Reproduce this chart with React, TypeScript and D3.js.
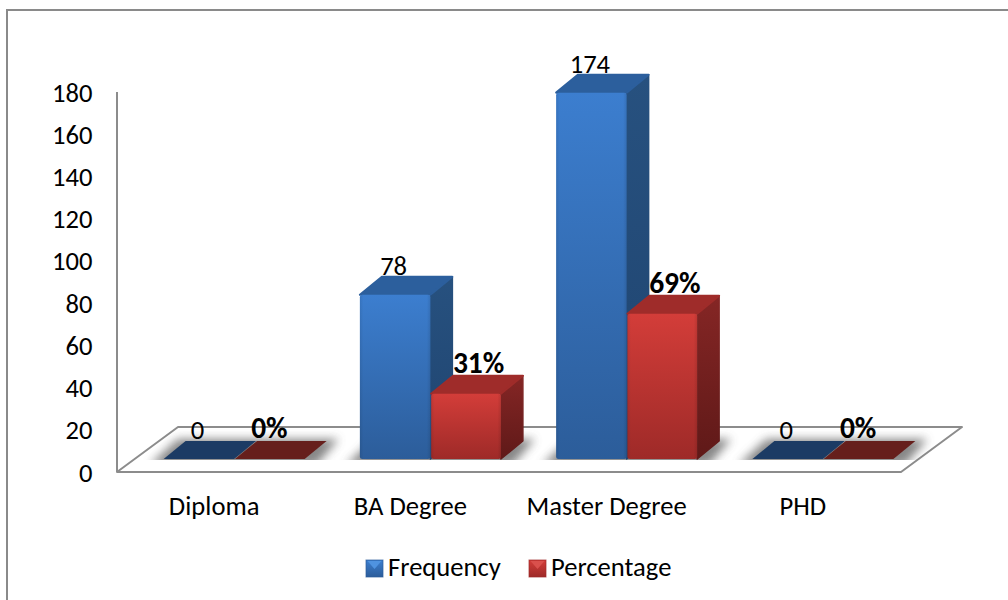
import React from "react";
import * as d3 from "d3";

const categories = ["Diploma", "BA Degree", "Master Degree", "PHD"];
const frequency = [0, 78, 174, 0];
const percentage = [0, 31, 69, 0];
const yTicks = [0, 20, 40, 60, 80, 100, 120, 140, 160, 180];
const seriesNames = ["Frequency", "Percentage"];

const FONT = "Carlito, Lato, 'Open Sans', sans-serif";
const DX = 22;
const DY = 18;
const BASE = 459;
const LABEL_SIZE = 26.6;
const BOLD_SIZE = 29.5;

const palette = [
  { flat0: "#1c3b64", top: "#2c5f9d", hi: "#3c7ecf", lo: "#2c5d9a", s0: "#27517f", s1: "#1f4470", glow: "#4f93e0" },
  { flat0: "#661f1c", top: "#9f2c2a", hi: "#d33d39", lo: "#9e2a28", s0: "#852625", s1: "#5f1918", glow: "#d9504c" },
];

const yScale = d3.scaleLinear().domain([0, 180]).range([BASE, BASE - 379]);
const axisY = d3.scaleLinear().domain([0, 180]).range([472, 92]);
const xScale = d3.scaleBand<string>().domain(categories).range([136, 921]);
const groupW = 141;
const inner = d3.scaleBand<string>().domain(seriesNames).range([0, groupW]);

const pts = (p: number[][]) => p.map((q) => q.join(",")).join(" ");

function Bar({ x, w, v, s }: { x: number; w: number; v: number; s: number }) {
  const c = palette[s];
  const top = yScale(v);
  if (v === 0) {
    return <polygon points={pts([[x, BASE], [x + w, BASE], [x + w + DX, BASE - DY], [x + DX, BASE - DY]])} fill={c.flat0} />;
  }
  return (
    <g>
      <polygon
        points={pts([[x + w, BASE], [x + w + DX, BASE - DY], [x + w + DX, top - DY], [x + w, top]])}
        fill={`url(#side${s})`}
        stroke={`url(#side${s})`}
        strokeWidth={1.5}
        strokeLinejoin="round"
      />
      <polygon
        points={pts([[x, top], [x + w, top], [x + w + DX, top - DY], [x + DX, top - DY]])}
        fill={c.top}
        stroke={c.top}
        strokeWidth={2}
        strokeLinejoin="round"
      />
      <rect x={x} y={top} width={w} height={BASE - top} fill={`url(#front${s})`} rx={2.5} />
      <rect x={x} y={top} width={w} height={BASE - top} fill={`url(#edge${s})`} rx={2.5} />
    </g>
  );
}

export default function App() {
  const step = xScale.step();
  const rows = [frequency, percentage];
  return (
    <svg width={1008} height={600} style={{ position: "absolute", left: 0, top: 0, background: "#fff" }} fontFamily={FONT}>
      <defs>
        {palette.map((c, i) => (
          <React.Fragment key={i}>
            <linearGradient id={`front${i}`} x1="0" y1="0" x2="0" y2="1">
              <stop offset="0" stopColor={c.hi} />
              <stop offset="1" stopColor={c.lo} />
            </linearGradient>
            <linearGradient id={`side${i}`} gradientUnits="objectBoundingBox" x1="0" y1="0" x2="0" y2="1">
              <stop offset="0" stopColor={c.s0} />
              <stop offset="1" stopColor={c.s1} />
            </linearGradient>
            <linearGradient id={`edge${i}`} x1="0" y1="0" x2="1" y2="0">
              <stop offset="0" stopColor="#000" stopOpacity="0.08" />
              <stop offset="0.05" stopColor="#000" stopOpacity="0" />
              <stop offset="0.95" stopColor="#000" stopOpacity="0" />
              <stop offset="1" stopColor="#000" stopOpacity="0.1" />
            </linearGradient>
            <linearGradient id={`swatch${i}`} x1="0" y1="0" x2="0" y2="1">
              <stop offset="0" stopColor={c.hi} />
              <stop offset="1" stopColor={c.lo} />
            </linearGradient>
          </React.Fragment>
        ))}
        <filter id="floorShadow" x="-30%" y="-100%" width="160%" height="300%">
          <feGaussianBlur stdDeviation="5" />
        </filter>
        <clipPath id="floorClip">
          <rect x={100} y={420} width={880} height={BASE + 1 - 420} />
        </clipPath>
      </defs>

      {/* outer frame: only the top and left edges fall on the canvas */}
      <line x1={6} x2={1008} y1={10} y2={10} stroke="#8a8a8a" strokeWidth={2} />
      <line x1={7} x2={7} y1={9} y2={600} stroke="#8a8a8a" strokeWidth={2} />

      {/* floor and left wall edge */}
      <polygon points={pts([[117, 472], [901, 472], [962, 427], [178, 427]])} fill="#fff" stroke="#8c8c8c" strokeWidth={2} strokeLinejoin="round" />
      <line x1={117} x2={117} y1={472} y2={axisY(180)} stroke="#8c8c8c" strokeWidth={2} />

      {/* soft shadows under each group */}
      <g clipPath="url(#floorClip)">
        {categories.map((cat) => {
          const x = xScale(cat)! + (step - groupW) / 2;
          return (
            <polygon
              key={cat}
              points={pts([[x - 14, BASE + 6], [x + groupW + 12, BASE + 6], [x + groupW + DX + 12, BASE - DY - 2], [x + DX - 8, BASE - DY - 2]])}
              fill="#555"
              opacity={0.7}
              filter="url(#floorShadow)"
            />
          );
        })}
      </g>

      {/* bars */}
      {categories.map((cat, i) => {
        const x0 = xScale(cat)! + (step - groupW) / 2;
        return (
          <g key={cat}>
            {seriesNames.map((name, s) => (
              <Bar key={name} x={x0 + inner(name)! + (s === 1 ? 0.8 : 0)} w={inner.bandwidth() - (s === 1 ? 0.8 : 0)} v={rows[s][i]} s={s} />
            ))}
          </g>
        );
      })}

      {/* value labels */}
      {categories.map((cat, i) => {
        const x0 = xScale(cat)! + (step - groupW) / 2;
        const bw = inner.bandwidth();
        return (
          <g key={cat} fill="#000">
            <text x={x0 + bw / 2 - 1.5} y={yScale(frequency[i]) - DY - 2} textAnchor="middle" fontSize={LABEL_SIZE}>
              {frequency[i]}
            </text>
            <text
              x={x0 + bw * 1.5 + (percentage[i] === 0 ? 0 : 13)}
              y={yScale(percentage[i]) - DY - 3}
              textAnchor="middle"
              fontWeight="bold"
              fontSize={BOLD_SIZE}
            >
              {percentage[i]}%
            </text>
          </g>
        );
      })}

      {/* y tick labels */}
      {yTicks.map((t) => (
        <text key={t} x={92.5} y={axisY(t) + 9.5} textAnchor="end" fontSize={LABEL_SIZE} fill="#000">
          {t}
        </text>
      ))}

      {/* category labels */}
      {categories.map((cat) => (
        <text key={cat} x={xScale(cat)! + step / 2 - 20} y={515} textAnchor="middle" fontSize={LABEL_SIZE} fill="#000">
          {cat}
        </text>
      ))}

      {/* legend */}
      {seriesNames.map((name, s) => {
        const lx = [366, 529][s];
        const c = palette[s];
        return (
          <g key={name}>
            <rect x={lx} y={560} width={17} height={17} fill={`url(#swatch${s})`} />
            <rect x={lx} y={560} width={17} height={17} fill="none" stroke={c.lo} strokeWidth={1} opacity={0.7} />
            <polygon points={pts([[lx + 1.5, 561], [lx + 15.5, 561], [lx + 8.5, 569]])} fill={c.glow} />
            <text x={lx + 22} y={576} fontSize={LABEL_SIZE} fill="#000">{name}</text>
          </g>
        );
      })}
    </svg>
  );
}
